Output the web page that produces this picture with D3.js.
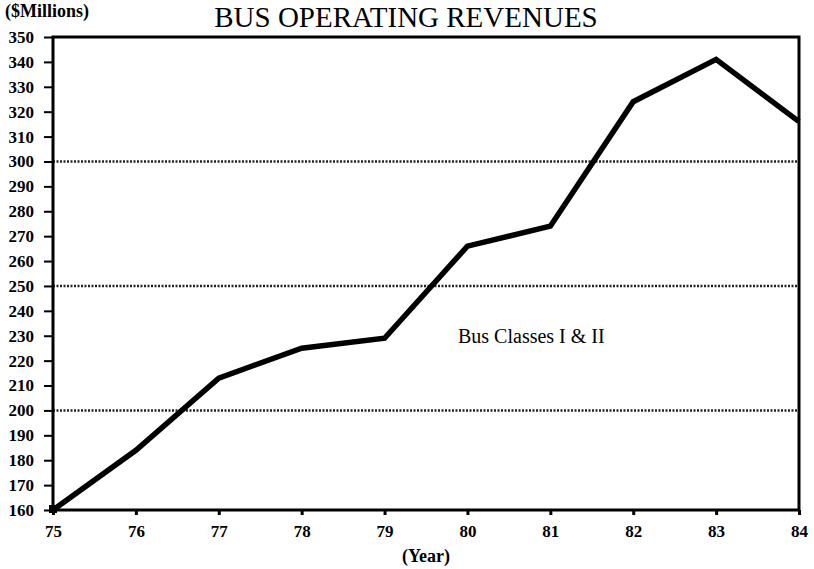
<!DOCTYPE html>
<html>
<head>
<meta charset="utf-8">
<script src="https://cdn.jsdelivr.net/npm/d3@7"></script>
<style>
  body { margin: 0; background: #fff; }
  svg { display: block; font-family: "Liberation Serif", "Times New Roman", serif; }
</style>
</head>
<body>
<div id="vis"></div>
<script>
const years = [75, 76, 77, 78, 79, 80, 81, 82, 83, 84]
const revenues = [160, 184, 213, 225, 229, 266, 274, 324, 341, 316]
const yTicks = d3.range(160, 351, 10)
const gridValues = [200, 250, 300]

const width = 814
const height = 569
const margin = {top: 37, right: 15, bottom: 59, left: 53}

var svg = d3.select("#vis")
    .append("svg")
    .attr("width", width)
    .attr("height", height)

var x = d3.scaleLinear()
    .domain([75, 84])
    .range([margin.left, width - margin.right])

var y = d3.scaleLinear()
    .domain([160, 350])
    .range([height - margin.bottom, margin.top])

// dotted reference lines
svg.append("g")
    .selectAll("line")
    .data(gridValues)
    .join("line")
    .attr("x1", x(75))
    .attr("x2", x(84))
    .attr("y1", d => y(d))
    .attr("y2", d => y(d))
    .attr("stroke", "#222")
    .attr("stroke-width", 2.5)
    .attr("stroke-dasharray", "2,1.5")

// left axis
var yAxis = svg.append("g")
    .attr("transform", `translate(${margin.left},0)`)
    .call(d3.axisLeft(y).tickValues(yTicks).tickSize(9).tickPadding(10).tickFormat(d3.format("d")))
yAxis.select(".domain").remove()
yAxis.selectAll(".tick line").attr("stroke", "#000").attr("stroke-width", 2)
yAxis.selectAll("text")
    .attr("fill", "#000")
    .attr("font-size", "17px")
    .attr("font-weight", "bold")
    .attr("font-family", "Liberation Serif, serif")

// bottom axis
var xAxis = svg.append("g")
    .attr("transform", `translate(0,${height - margin.bottom})`)
    .call(d3.axisBottom(x).tickValues(years).tickSize(5).tickPadding(10).tickFormat(d3.format("d")))
xAxis.select(".domain").remove()
xAxis.selectAll(".tick line").attr("stroke", "#000").attr("stroke-width", 3)
xAxis.selectAll("text")
    .attr("fill", "#000")
    .attr("font-size", "17px")
    .attr("font-weight", "bold")
    .attr("font-family", "Liberation Serif, serif")

// frame
svg.append("rect")
    .attr("x", x(75))
    .attr("y", y(350))
    .attr("width", x(84) - x(75))
    .attr("height", y(160) - y(350))
    .attr("fill", "none")
    .attr("stroke", "#000")
    .attr("stroke-width", 3)

// revenue line
var line = d3.line()
    .x((d, i) => x(years[i]))
    .y(d => y(d))

svg.append("path")
    .datum(revenues)
    .attr("fill", "none")
    .attr("stroke", "#000")
    .attr("stroke-width", 5.5)
    .attr("stroke-linejoin", "miter")
    .attr("d", line)

svg.append("rect")
    .attr("x", x(years[0]) - 4)
    .attr("y", y(revenues[0]) - 5)
    .attr("width", 8)
    .attr("height", 8)
    .attr("fill", "#000")

// texts
svg.append("text")
    .attr("x", 406)
    .attr("y", 27)
    .attr("text-anchor", "middle")
    .attr("font-size", "29px")
    .text("BUS OPERATING REVENUES")

svg.append("text")
    .attr("x", 5)
    .attr("y", 17)
    .attr("font-size", "18px")
    .attr("font-weight", "bold")
    .text("($Millions)")

svg.append("text")
    .attr("x", 426)
    .attr("y", 562)
    .attr("text-anchor", "middle")
    .attr("font-size", "18px")
    .attr("font-weight", "bold")
    .text("(Year)")

svg.append("text")
    .attr("x", 458)
    .attr("y", 343)
    .attr("font-size", "20px")
    .text("Bus Classes I & II")
</script>
</body>
</html>
